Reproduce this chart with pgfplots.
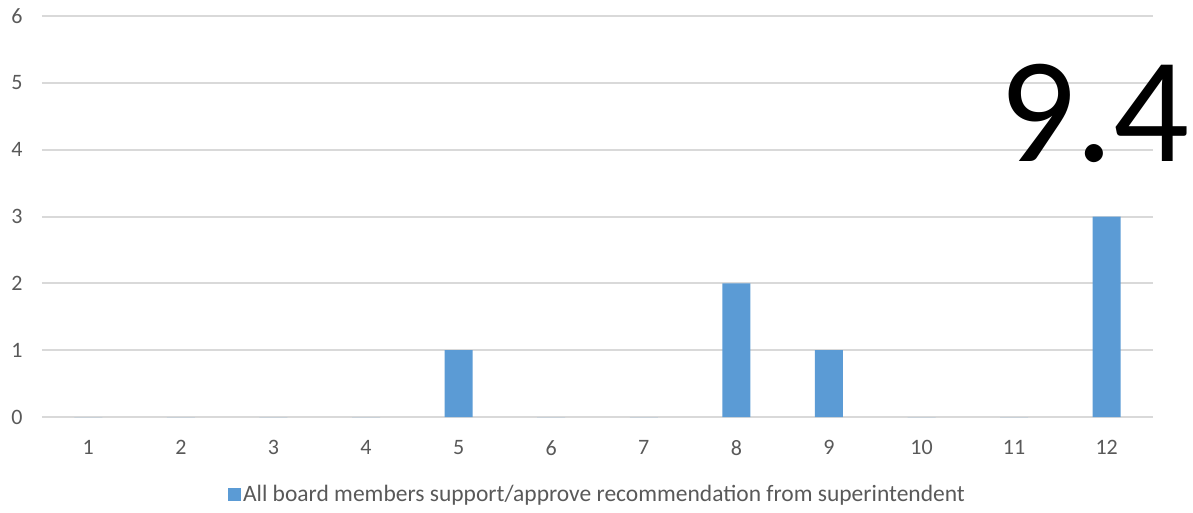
\documentclass[border=0pt]{standalone}
\usepackage{pgfplots}
\pgfplotsset{compat=1.18}
\usepackage{fontspec}
\setmainfont{Carlito}
\definecolor{barblue}{HTML}{5B9BD5}
\definecolor{txtgray}{HTML}{595959}
\definecolor{gridgray}{HTML}{D9D9D9}
\begin{document}
\begin{tikzpicture}
\begin{axis}[
  scale only axis,
  width=1111pt, height=401pt,
  xmin=0.5, xmax=12.5,
  ymin=0, ymax=6,
  xtick={1,...,12},
  ytick={0,...,6},
  axis line style={draw=none},
  major tick length=0pt,
  ymajorgrids,
  grid style={gridgray, line width=2pt},
  ticklabel style={font=\fontsize{22}{26}\selectfont, text=txtgray},
  /pgf/number format/assume math mode=true,
  yticklabel style={xshift=-16pt},
  xticklabel style={yshift=-20pt},
  clip=false,
  legend style={at={(0.5,-0.16)}, anchor=north, draw=none, fill=none,
    font=\fontsize{23.5}{26}\selectfont, text=txtgray},
  legend image code/.code={\fill[barblue] (0pt,-6.5pt) rectangle (13pt,6.5pt);},
]
\addplot[ybar, bar width=28pt, fill=barblue, draw=none] coordinates {
(1,0) (2,0) (3,0) (4,0) (5,1) (6,0) (7,0) (8,2) (9,1) (10,0) (11,0) (12,3)};
\addlegendentry{All board members support/approve recommendation from superintendent}
\node[anchor=base east, font=\fontsize{150}{170}\selectfont, text=black, inner sep=0pt] at (axis cs:12.9,3.82) {9.4};
\end{axis}
\path[use as bounding box] (-42pt,-95pt) rectangle (1151pt,417pt);
\end{tikzpicture}
\end{document}
